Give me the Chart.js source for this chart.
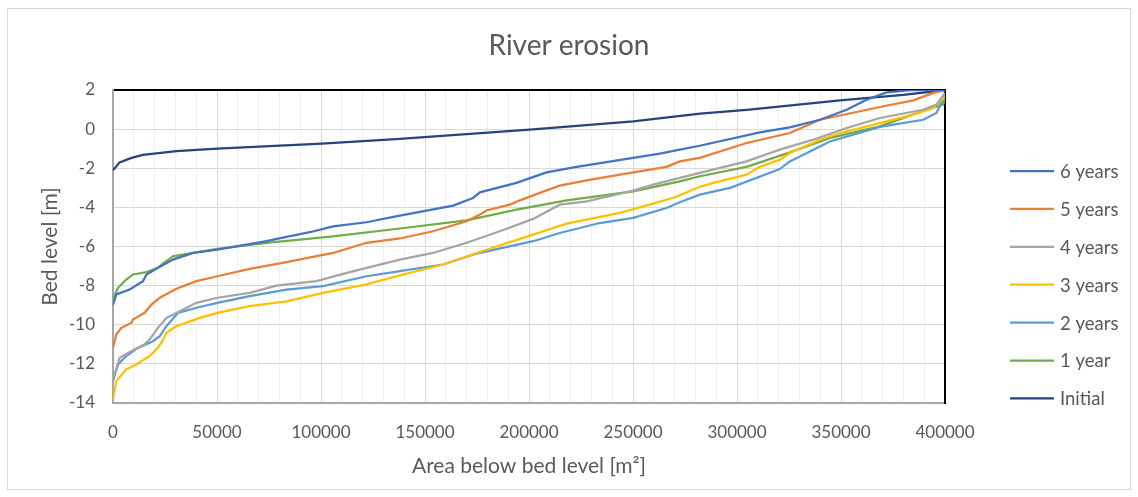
<!DOCTYPE html>
<html lang="en">
<head>
<meta charset="UTF-8">
<title>River erosion</title>
<script src="https://cdn.jsdelivr.net/npm/chart.js@4.4.1/dist/chart.umd.min.js"></script>
<style>
  body { margin: 0; background: #fff; }
  .frame { position: relative; width: 1138px; height: 497px; }
  .frame .edge { position: absolute; left: 7px; top: 8px; right: 7px; bottom: 7px; border: 1px solid #d9d9d9; }
  canvas { position: absolute; left: 0; top: 0; }
</style>
</head>
<body>
<div class="frame">
  <div class="edge"></div>
  <canvas id="erosion" width="1138" height="497"></canvas>
</div>

<script>
// area below bed level [m2] and bed level [m] per survey
const areaInitial = [0, 3200, 8900, 14400, 30500, 50200, 100400, 137900, 200400, 250100, 282300, 306000, 349500, 380000, 400000];
const bedInitial  = [-2.1, -1.7, -1.47, -1.32, -1.12, -1.0, -0.74, -0.5, -0.03, 0.4, 0.79, 1.0, 1.47, 1.75, 2.0];

const area1y = [0, 2400, 6400, 9600, 16100, 21600, 24000, 28800, 38500, 50200, 73800, 105800, 137900, 170000, 194000, 218100, 250100, 272500, 282100, 304600, 325400, 344700, 368700, 391100, 399100, 400000];
const bed1y  = [-8.7, -8.11, -7.69, -7.43, -7.31, -7.09, -6.87, -6.5, -6.33, -6.12, -5.81, -5.48, -5.08, -4.66, -4.11, -3.64, -3.18, -2.67, -2.41, -1.93, -1.19, -0.45, 0.14, 0.99, 1.25, 1.59];

const area2y = [0, 2400, 6400, 11300, 19200, 22500, 25700, 31300, 40100, 50200, 65700, 83400, 101000, 121900, 137900, 158700, 174800, 202000, 214800, 234000, 250100, 266100, 272500, 282100, 296700, 320600, 325400, 344700, 368700, 389500, 395900, 400000];
const bed2y  = [-12.88, -12.03, -11.6, -11.23, -10.84, -10.58, -10.07, -9.39, -9.13, -8.88, -8.54, -8.2, -8.03, -7.52, -7.26, -6.92, -6.36, -5.73, -5.31, -4.8, -4.54, -4.03, -3.74, -3.35, -3.0, -2.04, -1.65, -0.63, 0.11, 0.48, 0.83, 1.76];

const area3y = [0, 1600, 6400, 11300, 17600, 20900, 23300, 25700, 30500, 41700, 50200, 65700, 83400, 101000, 121900, 137900, 158700, 174800, 197200, 218100, 243700, 259700, 270900, 282100, 288600, 304600, 311000, 320600, 325400, 339900, 349500, 368700, 384800, 394400, 400000];
const bed3y  = [-13.8, -12.88, -12.28, -12.03, -11.6, -11.26, -10.92, -10.41, -10.07, -9.65, -9.39, -9.05, -8.8, -8.37, -7.94, -7.48, -6.92, -6.33, -5.56, -4.83, -4.28, -3.81, -3.46, -2.95, -2.75, -2.33, -1.93, -1.56, -1.22, -0.54, -0.2, 0.31, 0.74, 1.08, 1.67];

const area4y = [0, 3200, 9600, 15200, 17600, 21600, 25700, 32100, 40100, 50200, 65700, 78600, 97800, 113800, 137900, 153900, 170000, 186000, 202000, 214800, 227700, 250100, 259700, 272500, 282100, 304600, 320600, 336700, 352700, 368700, 389500, 395900, 400000];
const bed4y  = [-12.8, -11.69, -11.3, -11.0, -10.75, -10.16, -9.65, -9.31, -8.88, -8.62, -8.37, -8.0, -7.77, -7.31, -6.67, -6.33, -5.81, -5.22, -4.59, -3.86, -3.69, -3.14, -2.84, -2.49, -2.24, -1.65, -1.05, -0.54, 0.06, 0.57, 0.99, 1.25, 1.85];

const area5y = [0, 1600, 4000, 8900, 9600, 15200, 18500, 22500, 30500, 40100, 50200, 65700, 83400, 105800, 121900, 137900, 153900, 170000, 176400, 179600, 190800, 195600, 205200, 214800, 227700, 250100, 266100, 272500, 282100, 304600, 325400, 339900, 368700, 384800, 394400, 400000];
const bed5y  = [-11.18, -10.5, -10.16, -9.9, -9.73, -9.39, -8.97, -8.62, -8.16, -7.77, -7.52, -7.14, -6.8, -6.33, -5.81, -5.59, -5.22, -4.71, -4.37, -4.16, -3.86, -3.64, -3.26, -2.89, -2.62, -2.21, -1.93, -1.65, -1.47, -0.71, -0.2, 0.48, 1.13, 1.47, 1.85, 2.0];

const area6y = [0, 1600, 8000, 14400, 16100, 21600, 28900, 38500, 50200, 73800, 83400, 94600, 105800, 121900, 137900, 163500, 173100, 176400, 194000, 208400, 222900, 250100, 262900, 272500, 282100, 311000, 325400, 339900, 352700, 362300, 371900, 385000, 400000];
const bed6y  = [-8.97, -8.45, -8.2, -7.77, -7.43, -7.09, -6.67, -6.33, -6.16, -5.73, -5.51, -5.27, -4.97, -4.76, -4.42, -3.91, -3.52, -3.23, -2.75, -2.21, -1.93, -1.47, -1.25, -1.05, -0.85, -0.17, 0.09, 0.48, 0.99, 1.5, 1.88, 2.0, 2.0];

const seriesNames = ['6 years', '5 years', '4 years', '3 years', '2 years', '1 year', 'Initial'];
const seriesColors = ['#4472c4', '#ed7d31', '#a5a5a5', '#ffc000', '#5b9bd5', '#70ad47', '#264478'];
const seriesArea = [area6y, area5y, area4y, area3y, area2y, area1y, areaInitial];
const seriesBed = [bed6y, bed5y, bed4y, bed3y, bed2y, bed1y, bedInitial];

const xTicksEvery = 50000;
const textGrey = '#595959';
const font = 'Lato';

const pts = (xs, ys) => xs.map((x, i) => ({ x: x, y: ys[i] }));

const datasets = seriesNames.map((name, i) => ({
  label: name,
  data: pts(seriesArea[i], seriesBed[i]),
  borderColor: seriesColors[i],
  backgroundColor: seriesColors[i],
  borderWidth: 2.25,
  pointRadius: 0,
  tension: 0,
  fill: false
}));

// legend on the right, one short line + name per series
const sideLegend = {
  id: 'sideLegend',
  afterDraw(chart) {
    const { ctx, chartArea } = chart;
    const x0 = chartArea.right + 65;
    const y0 = 171;
    const step = 37.9;
    ctx.save();
    ctx.font = '18.5px ' + font;
    ctx.textBaseline = 'middle';
    ctx.textAlign = 'left';
    chart.data.datasets.forEach((ds, i) => {
      const y = y0 + i * step;
      ctx.strokeStyle = ds.borderColor;
      ctx.lineWidth = 2.25;
      ctx.beginPath();
      ctx.moveTo(x0, y);
      ctx.lineTo(x0 + 44, y);
      ctx.stroke();
      ctx.fillStyle = textGrey;
      ctx.fillText(ds.label, x0 + 50, y + 1);
    });
    ctx.restore();
  }
};

new Chart(document.getElementById('erosion'), {
  type: 'line',
  data: { datasets: datasets },
  plugins: [sideLegend],
  options: {
    responsive: false,
    animation: false,
    layout: { padding: 0 },
    plugins: {
      legend: { display: false },
      tooltip: { enabled: false },
      title: {
        display: true,
        text: 'River erosion',
        color: textGrey,
        font: { family: font, size: 28, weight: 'normal', lineHeight: '36px' },
        padding: { top: 28, bottom: 0 }
      }
    },
    scales: {
      x: {
        type: 'linear',
        position: 'bottom',
        min: 0,
        max: 400000,
        afterFit(s) { s.height = 94; },
        ticks: {
          stepSize: 10000,
          autoSkip: false,
          maxRotation: 0,
          padding: 19,
          color: textGrey,
          font: { family: font, size: 17 },
          callback: v => (v % xTicksEvery === 0 ? String(v) : '')
        },
        grid: {
          drawTicks: false,
          color: c => (c.tick && c.tick.value % xTicksEvery === 0 ? '#d9d9d9' : '#f0f0f0'),
          lineWidth: 1
        },
        border: { color: '#a6a6a6', width: 2 },
        title: {
          display: true,
          text: 'Area below bed level [m²]',
          color: textGrey,
          font: { family: font, size: 21, lineHeight: '24px' },
          padding: { top: 0, bottom: 19 }
        }
      },
      xTop: {
        type: 'linear',
        position: 'top',
        min: 0,
        max: 400000,
        afterFit(s) { s.height = 26; },
        ticks: { display: false },
        grid: { drawOnChartArea: false, drawTicks: false },
        border: { color: '#000000', width: 2 }
      },
      y: {
        type: 'linear',
        position: 'left',
        min: -14,
        max: 2,
        afterFit(s) { s.width = 113; },
        ticks: {
          stepSize: 2,
          padding: 18,
          color: textGrey,
          font: { family: font, size: 17 },
          callback: v => String(v)
        },
        grid: { drawTicks: false, color: '#d9d9d9', lineWidth: 1 },
        border: { color: '#a6a6a6', width: 2 },
        title: {
          display: true,
          text: 'Bed level [m]',
          color: textGrey,
          font: { family: font, size: 21, lineHeight: '24px' },
          padding: { top: 38, bottom: 0 }
        }
      },
      yRight: {
        type: 'linear',
        position: 'right',
        min: -14,
        max: 2,
        // keeps the room for the side legend
        afterFit(s) { s.width = 193; },
        ticks: { display: false },
        grid: { drawOnChartArea: false, drawTicks: false },
        border: { color: '#000000', width: 2 }
      }
    }
  }
});
</script>
</body>
</html>
